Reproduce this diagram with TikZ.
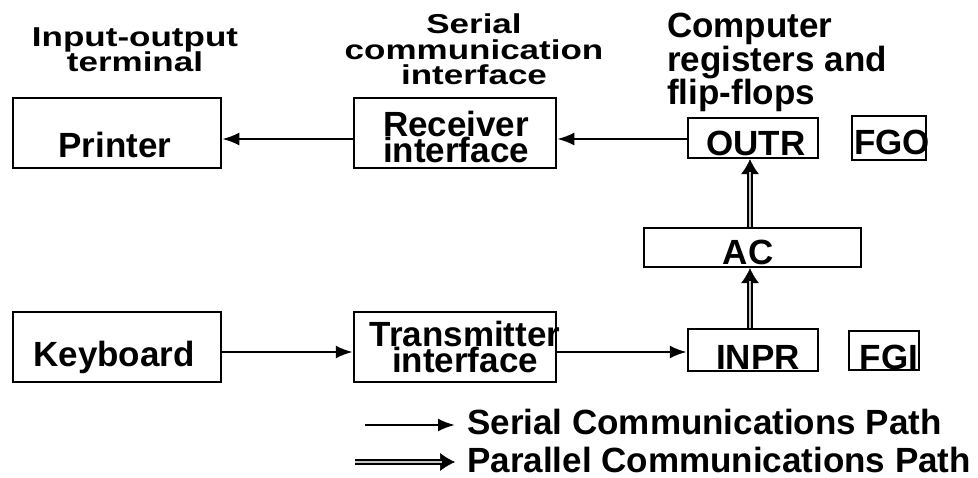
\documentclass[tikz,border=0pt]{standalone}
\usepackage{fontspec}
\setmainfont{Liberation Sans}
\usetikzlibrary{arrows.meta,calc}
\begin{document}
\begin{tikzpicture}[x=1pt,y=-1pt,
  box/.style={draw,line width=2.5pt,minimum width=#1,inner sep=0pt},
  txt/.style={font=\fontsize{35}{26}\selectfont\bfseries,inner sep=0pt,anchor=base,align=center},
  head/.style={font=\fontsize{35}{33}\selectfont\bfseries,inner sep=0pt,anchor=base,align=center,yscale=0.78,transform shape},
  ser/.style={line width=2.4pt,-{Latex[length=17pt,width=13pt]}},
  partip/.style={line width=0.5pt,-{Latex[length=15pt,width=18pt]}},
  parline/.style={line width=2.2pt,double=gray!45,double distance=2.5pt,shorten >=13pt}]
\useasboundingbox (0,0) rectangle (978,478);

% register and terminal blocks
\node[box=208pt,minimum height=70pt] (printer) at (117,133) {};
\node[box=202pt,minimum height=70pt] (recv) at (455,133) {};
\node[box=130pt,minimum height=40pt] (outr) at (753,138) {};
\node[box=74pt,minimum height=44pt] (fgo) at (889,138) {};
\node[box=217pt,minimum height=39pt] (ac) at (752.5,247.5) {};
\node[box=208pt,minimum height=70pt] (kbd) at (117,347) {};
\node[box=202pt,minimum height=70pt] (trans) at (455,347) {};
\node[box=130pt,minimum height=42pt] (inpr) at (753,350) {};
\node[box=70pt,minimum height=39pt] (fgi) at (884,350.5) {};

% block captions (multi-line nodes sit on their last baseline)
\node[txt] (tprinter) at (115,158) {Printer};
\node[txt] (trecv) at (456,163) {Receiver\\interface};
\node[txt] (toutr) at (756,156) {OUTR};
\node[txt] (tfgo) at (892,155) {FGO};
\node[txt] (tac) at (748,265) {AC};
\node[txt] (tkbd) at (114,367) {Keyboard};
\node[txt] (ttrans) at (465,373) {Transmitter\\interface};
\node[txt] (tinpr) at (758,370) {INPR};
\node[txt] (tfgi) at (889,370) {FGI};

% group headings
\node[head] (hio) at (135,72) {Input-output\\terminal};
\node[head] (hsci) at (474,85) {Serial\\communication\\interface};
\node[txt,anchor=base west,align=left,font=\fontsize{35}{33.5}\selectfont\bfseries] (hreg) at (667,105) {Computer\\registers and\\flip-flops};

% serial paths
\draw[ser] ([yshift=-6pt]recv.west) -- ([yshift=-6pt]printer.east);
\draw[ser] ([yshift=-1pt]outr.west) -- ([yshift=-6pt]recv.east);
\draw[ser] ([yshift=-5pt]kbd.east) -- ([yshift=-5pt]trans.west);
\draw[ser] ([yshift=-5pt]trans.east) -- ([yshift=-2pt]inpr.west);

% parallel paths
\draw[partip] ([xshift=-3pt]inpr.north) -- ([xshift=-2.5pt]ac.south);
\draw[parline] ([xshift=-3pt]inpr.north) -- ([xshift=-2.5pt]ac.south);
\draw[partip] ([xshift=-2.5pt]ac.north) -- ([xshift=-3pt]outr.south);
\draw[parline] ([xshift=-2.5pt]ac.north) -- ([xshift=-3pt]outr.south);

% legend
\coordinate (s1) at (365,425);
\coordinate (s2) at (455,425);
\coordinate (p1) at (355,462);
\coordinate (p2) at (455,462);
\draw[ser] (s1) -- (s2);
\draw[partip] (p1) -- (p2);
\draw[parline] (p1) -- (p2);
\node[txt,anchor=base west] (lser) at (467,435) {Serial Communications Path};
\node[txt,anchor=base west] (lpar) at (467,472) {Parallel Communications Path};
\end{tikzpicture}
\end{document}
